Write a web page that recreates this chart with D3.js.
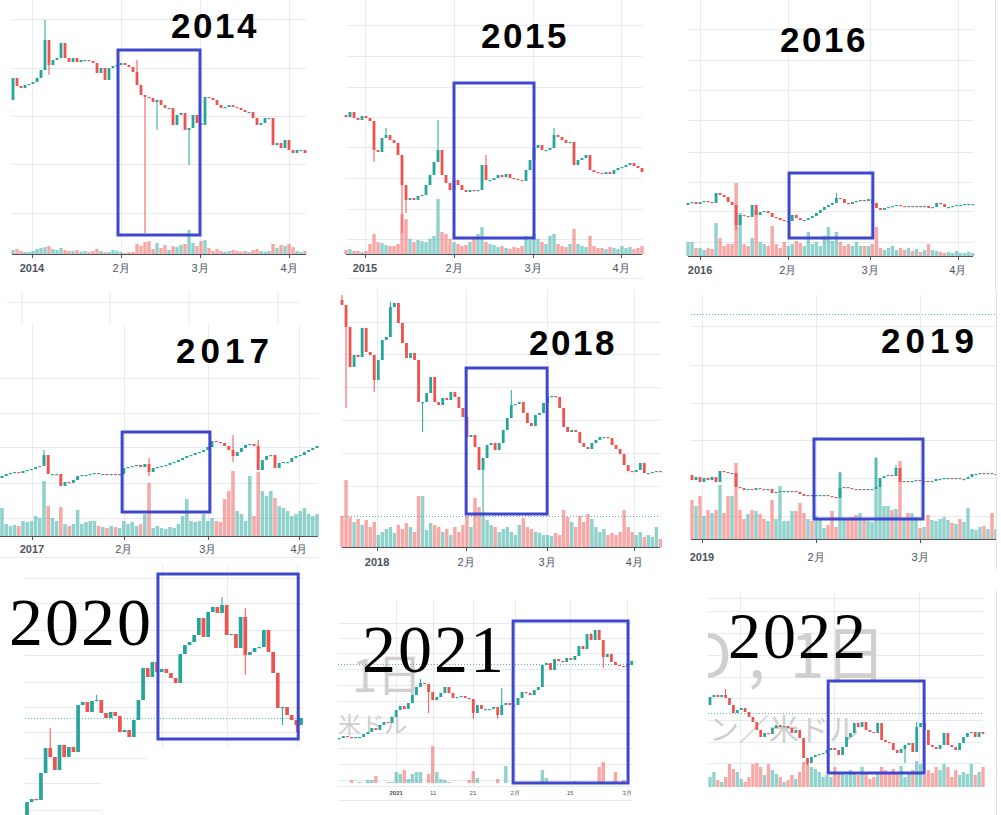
<!DOCTYPE html>
<html><head><meta charset="utf-8">
<script src="https://cdn.jsdelivr.net/npm/d3@7"></script>
<style>html,body{margin:0;padding:0;background:#fff;}svg{display:block;}</style>
</head><body>
<svg id="chart" width="1001" height="815"></svg>
<script>
// ---------------- DATA (prices in arbitrary chart units, volumes in arbitrary units) ----------------
// 2014
const open2014 = 154;
const close2014 = [176,168,166,169,170,172,176,184,214,189,194,196,211,196,192,196,192,194,194,193,191,181,186,174,186,188,189,191,189,187,182,169,159,157,156,152,154,149,146,146,129,139,141,124,126,139,131,129,157,156,154,149,146,147,149,147,146,144,142,142,136,129,131,136,136,109,111,106,114,104,101,104,104,101];
const vol2014 = [4,5,3,2,2,3,5,6,7,8,5,4,6,4,3,3,4,2,3,2,3,5,3,2,2,4,3,2,1,2,2,10,8,12,13,5,11,6,9,4,8,7,9,10,24,11,8,13,14,6,3,5,3,2,3,4,3,2,3,2,4,5,3,2,3,10,6,9,8,10,7,3,2,3];
const wick2014 = [[8,234,null],[9,null,179],[31,194,null],[33,null,21],[36,null,124],[44,null,89]];
const tick2014 = [4.75,27,46.75,69];
const label2014 = ['2014','2月','3月','4月'];
const grid2014 = [235,186,138,90,41];
const box2014 = [26.25,46.75,204,19];
// 2015
const open2015 = 139;
const close2015 = [137,142,136,134,138,136,133,104,102,116,119,114,111,99,69,54,56,54,58,59,69,79,92,104,79,71,64,74,69,64,62,64,63,64,89,74,74,76,79,77,80,76,75,74,73,84,94,106,109,104,104,106,119,117,114,111,112,89,94,96,99,84,82,81,80,82,80,84,86,87,89,91,88,86,82];
const vol2015 = [4,5,3,3,2,3,10,20,12,11,9,8,8,10,40,35,15,12,14,13,12,15,18,55,22,20,15,12,10,8,9,12,15,20,27,12,10,9,7,8,6,5,7,6,8,18,14,20,15,12,10,18,20,10,8,7,10,25,10,8,7,18,8,6,6,5,7,6,5,8,6,7,5,6,8];
const wick2015 = [[7,null,92],[10,126,null],[14,null,21],[15,null,41],[23,134,null],[35,99,null],[52,126,null]];
const tick2015 = [4.75,27,46.75,68.75];
const label2015 = ['2015','2月','3月','4月'];
const grid2015 = [229,198,167,137,107,76,45,15];
const box2015 = [27,47,171,16];
// 2016
const open2016 = 51;
const close2016 = [53,54,52,54,55,54,53,63,61,59,54,51,31,41,40,39,51,41,44,45,43,39,38,36,35,35,41,38,36,36,38,40,43,46,49,51,53,58,57,53,52,54,55,56,55,57,53,48,46,48,49,50,51,50,49,50,49,50,49,50,48,49,53,52,49,49,50,51,51,52,52,52];
const vol2016 = [14,14,8,8,6,8,7,33,18,10,12,12,73,43,12,10,18,46,14,12,10,30,12,8,14,10,12,15,13,10,24,12,14,10,20,29,15,24,14,10,12,10,14,10,10,10,12,29,8,6,8,10,6,8,6,8,5,7,4,6,12,6,5,4,3,4,3,5,3,3,4,3];
const wick2016 = [[12,null,26],[37,63,null]];
const tick2016 = [3,24.9,45.4,67.3];
const label2016 = ['2016','2月','3月','4月'];
const grid2016 = [227,196,166,136,104,74,45,14];
const box2016 = [25.2,46.1,83,18];
// 2017
const open2017 = 58;
const close2017 = [60,62,63,64,63,65,66,67,69,70,81,62,62,62,50,54,53,56,60,61,61,62,63,62,62,61,62,61,62,68,69,70,71,69,72,64,68,69,70,71,73,74,76,78,80,81,83,84,86,89,95,94,93,90,86,80,84,88,91,92,90,66,76,80,81,68,73,74,74,78,80,81,84,86,88,90];
const vol2017 = [28,12,10,11,10,15,14,15,20,18,55,30,18,15,29,12,10,12,26,12,14,15,15,10,9,8,10,9,8,15,12,14,10,12,22,53,8,10,8,7,9,8,12,20,37,15,14,15,22,15,18,15,14,37,45,65,25,22,15,60,20,64,45,40,45,38,30,28,25,20,22,25,28,22,20,22];
const wick2017 = [[10,86,null],[35,78,60],[55,101,74],[61,96,null]];
const tick2017 = [7.14,29,49,70.7];
const label2017 = ['2017','2月','3月','4月'];
const grid2017 = [158,123,89,53,18];
const box2017 = [28.6,49.5,104,24];
// 2018
const open2018 = 247;
const close2018 = [242,220,180,192,190,219,195,192,167,187,207,210,240,244,224,204,189,194,187,145,145,154,170,145,142,149,147,155,150,139,130,110,112,100,77,89,102,104,97,104,117,129,142,143,145,134,124,121,132,134,144,151,151,150,139,120,115,117,115,104,100,98,104,107,110,110,109,102,98,93,82,76,75,77,84,74,74,75,76,75];
const vol2018 = [31,67,30,25,28,22,27,20,25,12,15,18,20,14,22,18,24,20,15,51,51,17,24,22,20,15,18,12,20,15,22,31,20,49,40,35,27,22,20,15,18,20,15,12,22,29,20,18,15,14,12,12,11,14,12,37,30,25,20,31,25,33,28,20,15,18,12,14,12,15,37,20,15,12,15,10,12,10,20,8];
const wick2018 = [[0,252,null],[1,null,139],[8,null,155],[12,245,null],[20,null,115],[35,null,35],[42,157,null]];
const tick2018 = [8.7,30.8,50.9,72.5];
const label2018 = ['2018','2月','3月','4月'];
const grid2018 = [225,193,160,127,94,61];
const box2018 = [30.8,50.9,179,33];
// 2019
const open2019 = 64;
const close2019 = [59,62,57,61,59,62,57,68,67,66,66,52,51,49,50,49,51,50,49,50,46,47,48,48,48,48,47,45,43,44,43,44,44,44,43,42,41,51,52,51,50,49,50,49,50,50,52,61,63,64,63,71,57,58,57,58,59,58,58,57,58,60,60,61,61,60,61,60,60,62,65,65,66,65,66,65,65];
const vol2019 = [39,33,43,23,29,26,29,54,26,43,43,76,29,20,25,29,28,25,20,18,39,20,53,18,18,28,28,36,26,20,18,23,20,11,14,28,12,67,19,20,22,24,26,19,18,17,81,53,33,33,29,30,78,19,26,26,22,11,12,24,19,18,20,22,19,16,15,20,17,31,10,9,12,13,10,26,10];
const wick2019 = [[37,66,null],[46,82,null],[51,74,null]];
const tick2019 = [2.5,31,57];
const label2019 = ['2019','2月','3月'];
const grid2019 = [213,174,136,99,61,23];
const box2019 = [30.5,57.75,100,20];
// 2020
const open2020 = 0;
const close2020 = [13,16,15,42,67,58,45,70,58,68,63,110,113,103,114,115,102,97,103,99,83,85,78,95,115,147,138,153,143,146,142,137,132,161,170,173,180,197,178,203,208,202,210,180,181,167,198,160,163,167,168,185,163,142,107,108,100,95,90,97];
const wick2020 = [[5,87,null],[15,120,null],[42,218,null],[47,207,140],[55,null,90],[58,null,83]];
const tick2020 = [29.1,43.1,58.1];
const grid2020 = [237,212,185,160,133,108,83,[57,26],[32,16],[5,16]];
const box2020 = [28.2,58.4,241,76];
// 2021
const open2021 = 44;
const close2021 = [45,47,46,45,46,46,49,51,55,53,58,61,60,66,73,77,74,80,88,96,100,99,91,83,86,90,96,90,85,86,87,85,84,70,78,74,74,74,76,68,78,80,78,78,85,91,90,88,93,96,118,120,113,124,122,121,125,123,127,137,134,149,143,153,143,126,129,121,118,117,116,118,122];
const vol2021 = [0,0,0,3,0,1,0,3,3,7,0,0,1,1,11,9,13,4,9,11,11,0,9,37,11,4,3,1,0,0,0,0,3,12,5,0,0,0,0,4,0,17,0,0,0,0,0,0,0,0,13,5,0,0,0,0,0,0,2,0,0,0,0,0,16,21,0,0,11,0,3,0,0];
const wick2021 = [[20,104,null],[22,null,70],[33,null,64],[39,null,64],[40,95,null],[62,150,null],[65,null,115]];
const tick2021 = [14,23.1,32.9,43.3,56.8,70.9];
const label2021 = ['2021','11','21','2月','15','3月'];
const grid2021 = [160,145,130,114,98,82,66,50,35,19,3];
const box2021 = [42.8,71.1,162,0];
// 2022
const open2022 = 82;
const close2022 = [90,92,90,92,89,82,74,77,79,75,70,65,57,50,54,53,59,62,60,61,59,54,57,49,29,24,30,32,33,34,37,39,37,32,40,50,54,64,60,65,57,55,54,64,47,45,44,37,34,38,42,44,35,60,64,57,42,40,38,42,54,42,40,37,44,50,54,55,50,55,53];
const vol2022 = [10,15,7,5,10,23,18,15,8,5,10,23,24,20,12,23,17,13,10,5,7,12,8,15,25,27,20,18,15,10,12,10,20,13,15,12,17,14,12,20,14,8,10,15,20,17,14,18,15,21,10,15,17,26,23,12,17,14,20,17,23,20,10,17,12,15,13,23,12,15,20];
const wick2022 = [[4,98,null],[25,null,22],[50,null,24],[53,65,null]];
const tick2022 = [7.7,31.8,53.6];
const grid2022 = [189,176,154,132,110,89,67,45,24];
const box2022 = [30.3,54.9,106,14];

// ---------------- LAYOUT ----------------
const panels = [
 {year:'2014',open0:open2014,close:close2014,vol:vol2014,wicks:wick2014,ticks:tick2014,labels:label2014,grid:grid2014,box:box2014,
  x0:13,x1:305,base:254,gx:[12,306],vgy:[0,254],axis:true,labelY:272,labelSize:11,clip:[0,0,325,285],
  title:{kind:'sans',x:215,y:38,ls:2.5}},
 {year:'2015',open0:open2015,close:close2015,vol:vol2015,wicks:wick2015,ticks:tick2015,labels:label2015,grid:grid2015,box:box2015,
  x0:346,x1:642,base:254,gx:[346,642],vgy:[0,254],axis:true,labelY:272,labelSize:11,clip:[335,0,330,285],
  extra:[[346,278,642,278]],title:{kind:'sans',x:525,y:48,ls:2.5}},
 {year:'2016',open0:open2016,close:close2016,vol:vol2016,wicks:wick2016,ticks:tick2016,labels:label2016,grid:grid2016,box:box2016,
  x0:688,x1:972.7,base:256,gx:[688,973],vgy:[0,256],axis:true,labelY:274,labelSize:11,clip:[680,0,300,285],
  title:{kind:'sans',x:824,y:52,ls:2.5}},
 {year:'2017',open0:open2017,close:close2017,vol:vol2017,wicks:wick2017,ticks:tick2017,labels:label2017,grid:grid2017,box:box2017,
  x0:2,x1:317,base:536,gx:[0,318],vgy:[325,536],axis:true,labelY:553,labelSize:11,clip:[0,290,325,275],
  extra:[[0,557,318,557],[7,302,298,302],[22,290,22,325],[110,290,110,325],[189,290,189,325],[278,290,278,325]],
  title:{kind:'sans',x:225,y:363,ls:5}},
 {year:'2018',open0:open2018,close:close2018,vol:vol2018,wicks:wick2018,ticks:tick2018,labels:label2018,grid:grid2018,box:box2018,
  x0:342,x1:660.4,base:547,gx:[342,660],vgy:[290,547],axis:true,labelY:566,labelSize:11,clip:[335,290,330,280],dotted:31,
  title:{kind:'sans',x:573,y:355,ls:2.5}},
 {year:'2019',open0:open2019,close:close2019,vol:vol2019,wicks:wick2019,ticks:tick2019,labels:label2019,grid:grid2019,box:box2019,
  x0:692,x1:996,base:539,gx:[691,996],vgy:[295,539],axis:true,labelY:561,labelSize:11,clip:[690,290,306,280],dotted:225,
  title:{kind:'sans',x:930,y:353,ls:5}},
 {year:'2020',open0:open2020,close:close2020,vol:null,wicks:wick2020,ticks:tick2020,labels:null,grid:grid2020,box:box2020,
  x0:27,x1:301,base:815,gx:[25,303],vgy:[565,748],axis:false,clip:[0,565,330,250],dotted:97,bodyFrac:0.8,
  title:{kind:'serif',x:9,y:645,size:68}},
 {year:'2021',open0:open2021,close:close2021,vol:vol2021,wicks:wick2021,ticks:tick2021,labels:label2021,grid:grid2021,box:box2021,
  x0:339.3,x1:631.7,base:783,gx:[338,632],vgy:[600,786],axis:false,labelY:795,labelSize:6,clip:[333,595,305,220],dotted:119,
  extra:[[338,786,632,786],[338,800,632,800]],
  marks:[{t:'1日',x:352,y:692,s:45,a:'start'},{t:'米ドル',x:338,y:733,s:23,a:'start'}],
  title:{kind:'serif',x:362,y:672,size:68}},
 {year:'2022',open0:open2022,close:close2022,vol:vol2022,wicks:wick2022,ticks:tick2022,labels:null,grid:grid2022,box:box2022,
  x0:710,x1:983,base:787,gx:[708,983],vgy:[592,787],axis:false,clip:[708,590,288,225],dotted:74,
  marks:[{t:'USD',x:732,y:678,s:62,a:'end'},{t:',',x:748,y:678,s:62,a:'start'},{t:'1日',x:790,y:678,s:62,a:'start'},{t:'ン／米ドル',x:709,y:740,s:30,a:'start'}],
  title:{kind:'serif',x:728,y:658,size:66}}
];

// ---------------- DRAW ----------------
const UP='#26a69a', DN='#ef5350', VUP='rgba(38,166,154,0.5)', VDN='rgba(239,83,80,0.5)', GRID='#e6ebf1', BOX='#3f48cc', WM='#cfcfcf';
const svg = d3.select('#chart');
svg.append('rect').attr('width',1001).attr('height',815).attr('fill','#fff');
const defs = svg.append('defs');

panels.forEach(P => {
  const N = P.close.length;
  const x = d3.scaleLinear().domain([0, N-1]).range([P.x0, P.x1]);
  const y = d3.scaleLinear().domain([0, 300]).range([P.base, P.base - 300]);
  const vy = d3.scaleLinear().domain([0, 100]).range([P.base, P.base - 100]);
  const step = (P.x1 - P.x0) / (N - 1);
  const bw = step * (P.bodyFrac || 0.7);
  const vw = step * 0.85;
  const id = 'clip' + P.year;
  defs.append('clipPath').attr('id', id).append('rect')
    .attr('x', P.clip[0]).attr('y', P.clip[1]).attr('width', P.clip[2]).attr('height', P.clip[3]);
  const g = svg.append('g').attr('clip-path', `url(#${id})`);

  // horizontal grid
  g.selectAll(null).data(P.grid).join('line')
    .attr('x1', P.gx[0])
    .attr('x2', d => Array.isArray(d) ? x(d[1]) : P.gx[1])
    .attr('y1', d => Math.round(y(Array.isArray(d) ? d[0] : d)) + 0.5)
    .attr('y2', d => Math.round(y(Array.isArray(d) ? d[0] : d)) + 0.5)
    .attr('stroke', GRID).attr('stroke-width', 1);
  // vertical grid
  g.selectAll(null).data(P.ticks).join('line')
    .attr('x1', d => Math.round(x(d)) + 0.5).attr('x2', d => Math.round(x(d)) + 0.5)
    .attr('y1', P.vgy[0]).attr('y2', P.vgy[1])
    .attr('stroke', GRID).attr('stroke-width', 1);
  (P.extra || []).forEach(l => {
    g.append('line').attr('x1', l[0]).attr('y1', l[1] + 0.5).attr('x2', l[2]).attr('y2', l[3] + 0.5)
      .attr('stroke', GRID).attr('stroke-width', 1);
  });

  // watermarks
  (P.marks || []).forEach(m => {
    g.append('text').attr('x', m.x).attr('y', m.y).attr('text-anchor', m.a)
      .attr('font-family', '"Noto Sans CJK JP", "Noto Sans", sans-serif').attr('font-size', m.s)
      .attr('fill', WM).text(m.t);
  });

  // candle data
  const data = P.close.map((c, i) => {
    const o = i ? P.close[i-1] : P.open0;
    return {i, o, c, h: Math.max(o, c), l: Math.min(o, c), v: P.vol ? P.vol[i] : 0, up: c >= o};
  });
  P.wicks.forEach(([i, h, l]) => { if (h != null) data[i].h = h; if (l != null) data[i].l = l; });

  // volume
  if (P.vol) {
    g.selectAll(null).data(data.filter(d => d.v > 0)).join('rect')
      .attr('x', d => x(d.i) - vw/2).attr('width', vw)
      .attr('y', d => vy(d.v)).attr('height', d => vy(0) - vy(d.v))
      .attr('fill', d => d.up ? VUP : VDN);
  }
  // dotted line
  if (P.dotted != null) {
    g.append('line').attr('x1', P.gx[0]).attr('x2', P.gx[1])
      .attr('y1', Math.round(y(P.dotted)) + 0.5).attr('y2', Math.round(y(P.dotted)) + 0.5)
      .attr('stroke', UP).attr('stroke-width', 1).attr('stroke-dasharray', '1,2').attr('opacity', 0.8);
  }
  // wicks
  g.selectAll(null).data(data.filter(d => d.h > Math.max(d.o, d.c) || d.l < Math.min(d.o, d.c))).join('line')
    .attr('x1', d => x(d.i)).attr('x2', d => x(d.i))
    .attr('y1', d => y(d.h)).attr('y2', d => y(d.l))
    .attr('stroke', d => d.up ? UP : DN).attr('stroke-width', 1);
  // bodies
  g.selectAll(null).data(data).join('rect')
    .attr('x', d => x(d.i) - bw/2).attr('width', bw)
    .attr('y', d => y(Math.max(d.o, d.c)))
    .attr('height', d => Math.max(1.2, y(Math.min(d.o, d.c)) - y(Math.max(d.o, d.c))))
    .attr('fill', d => d.up ? UP : DN);

  // axis
  if (P.axis) {
    g.append('line').attr('x1', P.gx[0]).attr('x2', P.gx[1])
      .attr('y1', P.base + 0.5).attr('y2', P.base + 0.5).attr('stroke', '#50535e').attr('stroke-width', 1);
    g.selectAll(null).data(P.ticks).join('line')
      .attr('x1', d => Math.round(x(d)) + 0.5).attr('x2', d => Math.round(x(d)) + 0.5)
      .attr('y1', P.base).attr('y2', P.base + 4).attr('stroke', '#50535e');
  }
  if (P.labels) {
    g.selectAll(null).data(P.ticks).join('text')
      .attr('x', d => x(d)).attr('y', P.labelY).attr('text-anchor', 'middle')
      .attr('font-family', '"Liberation Sans", Arial, sans-serif').attr('font-size', P.labelSize)
      .attr('font-weight', (d, i) => /^\d{4}$/.test(P.labels[i]) ? 'bold' : 'normal')
      .attr('fill', '#4e5260')
      .text((d, i) => P.labels[i]);
  }

  // blue box
  const b = P.box;
  svg.append('rect')
    .attr('x', x(b[0])).attr('y', y(b[2]))
    .attr('width', x(b[1]) - x(b[0])).attr('height', y(b[3]) - y(b[2]))
    .attr('fill', 'none').attr('stroke', BOX).attr('stroke-width', 3);

  // year title
  const T = P.title;
  if (T.kind === 'sans') {
    svg.append('text').attr('x', T.x).attr('y', T.y).attr('text-anchor', 'middle')
      .attr('font-family', '"Liberation Sans", Arial, sans-serif').attr('font-weight', 'bold')
      .attr('font-size', 35).attr('letter-spacing', T.ls).attr('fill', '#000').text(P.year);
  } else {
    svg.append('text').attr('x', T.x).attr('y', T.y).attr('text-anchor', 'start')
      .attr('font-family', '"Liberation Serif", "Times New Roman", serif')
      .attr('font-size', T.size).attr('letter-spacing', 2).attr('fill', '#000').text(P.year);
  }
});

// screenshot borders
[[995.5,0,995.5,290],[996.5,290,996.5,570],[996.5,590,996.5,815]].forEach(l => {
  svg.append('line').attr('x1', l[0]).attr('y1', l[1]).attr('x2', l[2]).attr('y2', l[3])
    .attr('stroke', '#e2e2e2').attr('stroke-width', 1);
});
</script>
</body></html>
